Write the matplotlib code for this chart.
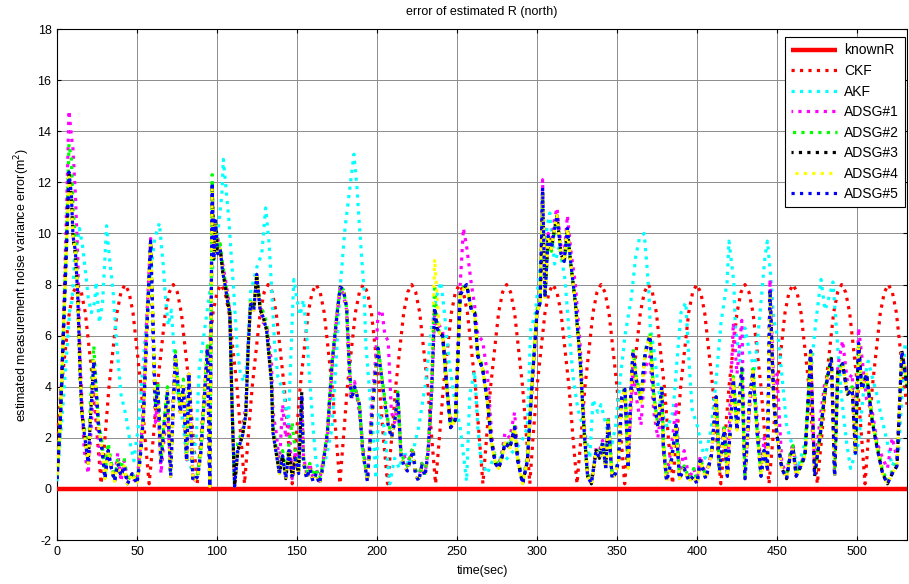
import matplotlib
matplotlib.use("Agg")
import matplotlib.pyplot as plt

plt.rcParams['font.family'] = ['Liberation Sans', 'DejaVu Sans']
plt.rcParams['axes.unicode_minus'] = False

# ---- data -------------------------------------------------------------
t_end = 531.25
known_t = [0, t_end]
known_v = [0, 0]

ckf_t = [0, 2.7, 7.7, 10.2, 12.7, 15.2, 17.7, 22.7, 25.2, 27.6,
         30, 32.5, 37.5, 40, 42.5, 45, 47.5, 52.5, 55, 57.6,
         60.2, 62.7, 67.7, 70.2, 72.7, 75.2, 77.7, 82.7, 85.2, 87.6,
         90, 92.5, 97.5, 100, 102.5, 105, 107.5, 112.5, 115, 117.2,
         119.5, 122, 127, 129.5, 132, 134.5, 137, 142, 144.5, 147,
         149.5, 152, 157, 159.5, 162, 164.5, 167, 172, 174.5, 176.8,
         179, 181.5, 186.5, 189, 191.5, 194, 196.5, 201.5, 204, 206.6,
         209.2, 211.7, 216.7, 219.2, 221.7, 224.2, 226.7, 231.7, 234.2, 236.6,
         239, 241.5, 246.5, 249, 251.5, 254, 256.5, 261.5, 264, 266.2,
         268.5, 271, 276, 278.5, 281, 283.5, 286, 291, 293.5, 295.5,
         297.5, 300, 305, 307.5, 310, 312.5, 315, 320, 322.5, 325,
         327.5, 330, 335, 337.5, 340, 342.5, 345, 350, 352.5, 354.8,
         357.1, 359.6, 364.6, 367.1, 369.6, 372.1, 374.6, 379.6, 382.1, 384.7,
         387.3, 389.8, 394.8, 397.3, 399.8, 402.3, 404.8, 409.8, 412.3, 414.9,
         417.5, 420, 425, 427.5, 430, 432.5, 435, 440, 442.5, 445,
         447.5, 450, 455, 457.5, 460, 462.5, 465, 470, 472.5, 475.2,
         477.9, 480.4, 485.4, 487.9, 490.4, 492.9, 495.4, 500.4, 502.9, 505,
         507.1, 509.6, 514.6, 517.1, 519.6, 522.1, 524.6, 529.6, 531.25]
ckf_v = [1.8, 4.0, 6.9, 7.7, 8.0, 7.7, 6.9, 4.0, 2.0, 0.2,
         2.0, 4.0, 6.9, 7.7, 8.0, 7.7, 6.9, 4.0, 2.0, 0.2,
         2.0, 4.0, 6.9, 7.7, 8.0, 7.7, 6.9, 4.0, 2.0, 0.2,
         2.0, 4.0, 6.9, 7.7, 8.0, 7.7, 6.9, 4.0, 2.0, 0.2,
         2.0, 4.0, 6.9, 7.7, 8.0, 7.7, 6.9, 4.0, 2.0, 0.2,
         2.0, 4.0, 6.9, 7.7, 8.0, 7.7, 6.9, 4.0, 2.0, 0.2,
         2.0, 4.0, 6.9, 7.7, 8.0, 7.7, 6.9, 4.0, 2.0, 0.2,
         2.0, 4.0, 6.9, 7.7, 8.0, 7.7, 6.9, 4.0, 2.0, 0.2,
         2.0, 4.0, 6.9, 7.7, 8.0, 7.7, 6.9, 4.0, 2.0, 0.2,
         2.0, 4.0, 6.9, 7.7, 8.0, 7.7, 6.9, 4.0, 2.0, 0.2,
         2.0, 4.0, 6.9, 7.7, 8.0, 7.7, 6.9, 4.0, 2.0, 0.2,
         2.0, 4.0, 6.9, 7.7, 8.0, 7.7, 6.9, 4.0, 2.0, 0.2,
         2.0, 4.0, 6.9, 7.7, 8.0, 7.7, 6.9, 4.0, 2.0, 0.2,
         2.0, 4.0, 6.9, 7.7, 8.0, 7.7, 6.9, 4.0, 2.0, 0.2,
         2.0, 4.0, 6.9, 7.7, 8.0, 7.7, 6.9, 4.0, 2.0, 0.2,
         2.0, 4.0, 6.9, 7.7, 8.0, 7.7, 6.9, 4.0, 2.0, 0.2,
         2.0, 4.0, 6.9, 7.7, 8.0, 7.7, 6.9, 4.0, 2.0, 0.2,
         2.0, 4.0, 6.9, 7.7, 8.0, 7.7, 6.9, 4.0, 3.3]

akf_t = [0, 4, 8, 9.5, 11, 14, 16, 18, 19.5, 21.5, 23.5, 24.5, 26.5, 28.5,
         31, 33, 35, 37, 40, 43, 46, 48, 51, 54, 57, 61, 64, 66.5, 67.5,
         69.5, 71.5, 73.5, 75.5, 79, 81, 84, 87, 89, 92, 95, 98, 101, 103,
         104, 106, 107.5, 108.5, 110.5, 112.5, 114.6, 116.7, 118.8, 121,
         125, 128, 130.4, 132.6, 134, 136, 138, 141.6, 144.6, 146.7, 148,
         150, 152, 154, 156, 158, 160.3, 162, 165, 168, 171.7, 174, 177,
         180, 182.5, 185.6, 187.5, 188.8, 190.5, 192, 193, 195, 198, 199.4,
         201, 204.6, 208, 211, 214, 217, 220, 223, 226, 230, 234, 237, 240,
         242, 245, 248, 252, 256, 258, 261, 263, 265, 269, 274, 280, 284,
         290, 294, 296, 299, 302, 305, 308, 311, 314, 317.5, 320, 322.5,
         325.6, 330, 333, 335, 338, 340, 343.6, 347, 349, 352, 355, 359,
         361.7, 364, 367, 368.5, 370, 370.8, 373, 375, 378, 381.5, 385,
         387.5, 390, 393, 395, 397, 400.5, 402.6, 405, 409, 412, 415, 418.8,
         420, 423, 424, 427, 430, 433, 436, 439, 442.5, 444, 446, 448, 451,
         454, 456, 460, 463, 467.5, 471, 474, 477.5, 480, 483, 485, 487,
         490, 493.5, 496, 501, 505, 507, 512, 515, 519, 522, 526, 530, 531.25]
akf_v = [0.3, 3.5, 7.0, 7.4, 9.0, 10.2, 9.5, 8.4, 7.5, 6.9, 7.3, 8.1, 6.5, 7.3,
         10.3, 8.9, 7.8, 5.9, 3.7, 2.9, 1.7, 1.1, 2.5, 5.0, 7.5, 9.8, 10.4, 8.7, 7.7,
         6.4, 7.0, 5.1, 3.8, 2.5, 1.2, 0.8, 2.0, 4.8, 6.1, 7.5, 9.0, 10.3, 11.5,
         12.9, 11.5, 10.5, 9.5, 7.7, 5.6, 4.5, 4.2, 4.9, 7.7,
         8.7, 9.2, 11.0, 9.6, 8.0, 5.7, 4.4, 3.8, 2.5, 6.1, 8.2,
         7.4, 6.8, 7.4, 6.1, 4.2, 2.2, 1.0, 0.6, 1.2, 2.3, 4.5, 7.9,
         10.2, 11.5, 13.1, 11.8, 10.5, 9.0, 7.7, 5.7, 4.1, 1.8, 0.4,
         3.0, 2.4, 0.2, 1.2, 0.8, 1.5, 0.9, 1.6, 2.4, 4.0, 6.2, 7.5, 8.1,
         7.0, 5.0, 3.7, 2.4, 0.3, 3.7, 4.6, 2.4, 1.1, 0.6, 1.4, 1.1, 1.4,
         1.8, 2.4, 6.2, 6.9, 8.8, 9.8, 10.8, 8.8, 9.5, 8.2, 6.2, 4.4,
         3.1, 2.2, 1.2, 3.5, 3.0, 3.3, 2.4, 1.8, 2.4, 4.3, 6.0, 7.5,
         9.1, 9.8, 10.0, 8.9, 7.6, 6.3, 5.5, 4.4, 3.0, 2.4, 3.0,
         5.0, 6.9, 7.3, 5.0, 3.1, 2.4, 1.7, 1.2, 2.4, 4.3, 6.5, 8.1,
         9.7, 8.1, 6.3, 5.0, 6.3, 5.3, 4.7, 6.6, 9.1, 9.7, 8.4, 6.6, 5.8,
         3.8, 2.5, 1.6, 0.8, 1.8, 4.4, 6.4, 8.2, 7.0, 7.6, 8.1, 6.4,
         3.8, 1.8, 0.8, 1.8, 4.4, 5.0, 3.8, 2.9, 1.8, 0.9, 1.4, 5.7, 5.5]

# shared time base of the five ADSG runs
adsg_t = [0, 2, 4, 6, 7.5, 9, 10, 11.5, 13, 14.5,
          15.5, 17, 19.5, 21, 23, 24.5, 26, 28, 30, 32,
          34, 36, 38, 40, 42, 44, 47, 50, 52, 54,
          56, 58.5, 60, 61.5, 63, 65, 67, 69, 71, 72.5,
          74, 76, 77, 79, 81, 82.5, 85, 88, 90, 92,
          94, 95.5, 97, 98, 99, 100.5, 102, 103.5, 105, 107,
          108, 109.5, 111, 113, 116, 118, 119.5, 121, 123, 124.8,
          127, 129, 131, 134, 135, 137, 139, 141, 143, 145,
          147, 149, 151, 153, 154, 156, 158, 160, 162, 164,
          166, 169, 172, 175, 177, 179, 181, 182.5, 184, 186,
          189, 191, 194, 197, 199, 200.6, 203, 205, 207, 209,
          211, 213, 215, 217, 219, 221, 222.5, 224, 226, 228,
          230, 232, 234, 236, 237.5, 239, 241, 244, 246, 249,
          250.5, 252, 254, 256, 259, 261, 263, 266, 269, 271.6,
          274, 276, 278, 280, 283, 286, 288, 291, 294, 297,
          300, 302, 303.5, 305, 307, 309, 311, 312.5, 315, 317,
          319, 321, 324, 327, 329.5, 331.6, 334, 337, 339, 341,
          343, 344.5, 347, 349, 351, 353, 355, 357, 358.5, 360,
          362, 365, 367, 368, 370.6, 373, 375.5, 378, 379, 381,
          384, 387, 389, 392, 395, 398, 400, 402, 405.5, 409,
          412, 414, 417, 419, 422.7, 425, 428, 430, 433, 435,
          437.5, 440, 442, 444, 445.6, 448, 450, 453, 456, 458,
          460, 462, 465, 467.5, 469.5, 471, 473.5, 475, 477, 480,
          482, 484, 486, 488, 491, 494, 497, 499, 501, 503,
          506, 509.6, 512.6, 516, 519, 522, 525, 528, 530, 531.25]

adsg1 = [0.4, 2.5, 6.5, 11.0, 14.8, 13.8, 13.3, 11.5, 9.0, 5.0,
         3.5, 1.5, 0.6, 2.0, 4.2, 3.0, 1.8, 0.8, 0.6, 1.2,
         1.0, 0.5, 1.4, 0.3, 1.1, 0.4, 0.4, 0.3, 1.5, 3.0,
         6.5, 9.8, 6.0, 2.6, 3.5, 0.6, 2.0, 3.2, 0.7, 3.5,
         5.2, 3.8, 3.0, 4.0, 1.1, 4.5, 0.3, 0.5, 1.5, 3.5,
         5.5, 0.1, 11.5, 9.6, 10.3, 9.8, 9.3, 8.8, 8.3, 7.5,
         6.9, 3.0, 0.1, 1.5, 2.4, 3.2, 5.8, 7.3, 7.0, 8.2,
         7.0, 6.5, 6.4, 5.0, 3.0, 2.2, 1.0, 3.3, 2.0, 2.6,
         0.4, 1.5, 1.2, 3.5, 1.3, 0.6, 1.0, 0.4, 0.8, 0.3,
         1.0, 2.0, 4.8, 6.8, 7.9, 7.6, 7.0, 5.0, 3.5, 4.2,
         3.0, 1.8, 0.4, 3.5, 5.0, 6.8, 7.0, 6.0, 5.8, 3.0,
         2.6, 3.4, 1.5, 1.3, 0.9, 1.4, 1.6, 0.6, 0.4, 1.0,
         0.6, 1.5, 3.5, 6.8, 6.3, 6.4, 6.2, 3.8, 2.6, 3.0,
         5.5, 8.0, 10.2, 9.5, 8.0, 7.2, 6.0, 5.8, 4.5, 2.2,
         1.0, 0.9, 1.4, 2.2, 2.0, 3.0, 1.3, 0.3, 1.2, 4.0,
         6.8, 7.4, 12.1, 7.6, 10.0, 9.6, 10.6, 11.0, 9.5, 9.2,
         10.7, 9.4, 8.0, 5.6, 2.5, 0.6, 0.3, 1.6, 1.5, 1.9,
         0.9, 2.8, 0.5, 0.7, 1.0, 3.4, 3.5, 1.0, 3.0, 4.9,
         3.6, 2.5, 4.3, 4.8, 5.2, 3.0, 2.0, 3.2, 1.4, 0.5,
         1.6, 3.3, 0.6, 1.5, 0.4, 0.8, 0.3, 1.3, 0.5, 1.4,
         3.3, 0.9, 2.5, 0.5, 6.5, 4.5, 6.6, 0.5, 3.3, 4.4,
         2.8, 0.8, 2.0, 1.0, 8.2, 4.0, 4.5, 1.0, 0.6, 1.3,
         1.8, 0.6, 1.0, 1.4, 3.4, 5.3, 0.8, 1.6, 2.8, 4.2,
         4.3, 5.0, 0.9, 4.8, 5.8, 4.2, 4.5, 2.2, 6.3, 5.2,
         3.5, 3.0, 1.8, 1.2, 0.8, 2.0, 1.2, 5.3, 4.8, 4.2]

adsg2 = [0.4, 2.5, 6.2, 10.0, 13.5, 12.9, 11.0, 9.8, 7.8, 4.3,
         3.0, 2.4, 1.2, 3.5, 5.6, 4.0, 2.6, 1.9, 0.6, 1.8,
         1.0, 0.4, 1.2, 0.8, 1.2, 0.3, 0.6, 0.3, 1.3, 2.9,
         6.0, 9.6, 6.3, 3.3, 4.2, 1.2, 2.7, 4.0, 0.6, 3.0,
         5.4, 3.8, 3.2, 4.3, 1.2, 4.6, 0.4, 0.6, 1.6, 3.6,
         5.6, 0.2, 12.3, 9.2, 10.6, 9.4, 9.6, 8.8, 8.2, 7.4,
         7.0, 3.2, 0.2, 1.8, 2.3, 3.0, 5.6, 7.4, 7.1, 8.3,
         7.2, 6.9, 6.5, 4.4, 2.5, 1.6, 0.8, 1.5, 0.6, 1.8,
         2.6, 1.4, 0.8, 3.6, 1.3, 0.6, 1.0, 0.5, 0.8, 0.4,
         0.9, 2.3, 5.0, 6.9, 7.9, 7.8, 7.1, 5.1, 3.7, 4.0,
         3.3, 1.6, 0.4, 3.0, 4.6, 5.6, 4.4, 3.5, 2.6, 2.1,
         2.7, 3.8, 1.4, 1.1, 0.9, 1.4, 1.6, 0.8, 0.4, 1.0,
         0.6, 1.6, 3.6, 8.0, 6.6, 6.1, 6.0, 3.8, 2.5, 2.8,
         5.0, 7.6, 7.9, 8.0, 7.1, 7.0, 5.3, 4.8, 3.5, 1.9,
         1.1, 0.9, 1.3, 1.9, 1.7, 2.5, 1.2, 0.3, 1.2, 4.3,
         7.0, 7.4, 11.6, 7.6, 9.8, 9.3, 10.1, 10.6, 9.1, 8.8,
         10.0, 8.8, 7.2, 5.1, 2.3, 0.6, 0.3, 1.6, 1.3, 1.9,
         0.9, 2.7, 0.5, 0.7, 1.2, 3.7, 4.0, 0.9, 3.6, 5.5,
         4.4, 3.5, 5.1, 5.5, 6.1, 3.7, 2.5, 4.1, 1.8, 0.4,
         1.2, 2.6, 0.5, 0.9, 0.4, 0.8, 0.3, 1.2, 0.5, 1.4,
         3.7, 0.8, 2.4, 0.6, 4.4, 2.4, 4.8, 0.5, 3.7, 4.7,
         2.4, 0.6, 1.6, 0.9, 7.6, 3.5, 2.2, 0.9, 0.5, 1.3,
         1.7, 0.6, 1.0, 1.4, 3.6, 5.5, 0.6, 1.3, 2.2, 3.9,
         4.6, 5.2, 0.6, 4.5, 5.0, 3.8, 4.0, 1.5, 5.6, 4.0,
         4.4, 2.7, 1.7, 0.7, 0.3, 0.7, 1.0, 5.3, 4.5, 4.0]

adsg3 = [0.4, 2.6, 6.1, 9.6, 12.3, 11.4, 9.8, 9.2, 7.4, 4.4,
         3.0, 2.2, 1.0, 2.9, 5.1, 3.8, 2.4, 1.6, 0.4, 1.5,
         0.8, 0.3, 1.0, 0.5, 0.9, 0.2, 0.6, 0.2, 1.2, 2.8,
         6.0, 9.7, 6.5, 3.2, 4.0, 1.0, 2.5, 3.8, 0.5, 3.0,
         5.2, 3.8, 3.0, 4.0, 1.1, 4.5, 0.3, 0.5, 1.5, 3.5,
         5.5, 0.1, 11.9, 9.0, 10.5, 9.2, 9.4, 8.5, 8.0, 7.2,
         6.9, 3.0, 0.1, 1.5, 2.1, 2.9, 5.5, 7.3, 7.0, 8.4,
         7.0, 6.7, 6.2, 4.2, 2.2, 1.4, 0.6, 1.3, 0.4, 1.5,
         0.5, 1.2, 0.6, 3.8, 1.1, 0.4, 0.8, 0.3, 0.6, 0.2,
         0.8, 2.2, 5.0, 6.8, 7.9, 7.8, 7.1, 5.0, 3.5, 4.0,
         3.3, 1.5, 0.3, 3.0, 4.5, 5.5, 4.3, 3.3, 2.5, 2.0,
         2.6, 3.7, 1.3, 0.9, 0.7, 1.2, 1.5, 0.6, 0.3, 0.9,
         0.5, 1.5, 3.7, 7.1, 6.3, 6.1, 6.0, 3.7, 2.4, 2.7,
         5.0, 7.6, 7.8, 8.0, 7.0, 6.9, 5.2, 4.7, 3.4, 1.8,
         1.0, 0.8, 1.2, 1.8, 1.6, 2.4, 1.1, 0.2, 1.1, 4.2,
         6.9, 7.3, 11.7, 7.5, 9.9, 9.4, 10.2, 10.7, 9.2, 8.9,
         10.2, 8.9, 7.3, 5.0, 2.2, 0.5, 0.2, 1.5, 1.2, 1.8,
         0.8, 2.7, 0.4, 0.6, 1.1, 3.6, 3.9, 0.8, 3.5, 5.4,
         4.3, 3.4, 5.0, 5.4, 6.0, 3.6, 2.4, 4.0, 1.7, 0.3,
         1.1, 2.5, 0.4, 0.8, 0.3, 0.5, 0.2, 1.1, 0.4, 1.3,
         3.6, 0.7, 2.3, 0.5, 4.3, 2.3, 4.7, 0.4, 3.6, 4.6,
         2.3, 0.5, 1.5, 0.8, 7.8, 3.4, 2.1, 0.8, 0.4, 1.2,
         1.6, 0.5, 0.9, 1.3, 3.5, 5.4, 0.5, 1.2, 2.1, 3.8,
         4.5, 5.1, 0.5, 4.6, 4.9, 3.7, 3.9, 1.4, 5.7, 3.9,
         4.5, 2.6, 1.6, 0.6, 0.2, 0.6, 0.9, 5.4, 4.6, 4.0]

adsg4 = [0.4, 2.5, 6.0, 9.5, 12.2, 11.4, 9.9, 9.3, 7.5, 4.5,
         3.0, 2.2, 1.0, 2.8, 5.0, 3.8, 2.4, 1.6, 0.4, 1.5,
         0.8, 0.3, 1.0, 0.5, 0.9, 0.2, 0.6, 0.2, 1.2, 2.8,
         6.0, 9.7, 6.5, 3.2, 4.0, 1.0, 2.5, 3.8, 0.5, 3.0,
         5.2, 3.8, 3.0, 4.0, 1.1, 4.5, 0.3, 0.5, 1.5, 3.5,
         5.5, 0.1, 11.8, 9.0, 10.5, 9.2, 9.4, 8.5, 8.0, 7.2,
         6.9, 3.0, 0.1, 1.5, 2.1, 2.9, 5.5, 7.3, 7.0, 8.4,
         7.0, 6.7, 6.2, 4.2, 2.2, 1.4, 0.6, 1.3, 0.4, 1.5,
         0.5, 1.2, 0.6, 3.7, 1.1, 0.4, 0.8, 0.3, 0.6, 0.2,
         0.8, 2.2, 5.0, 6.8, 7.9, 7.8, 7.1, 5.0, 3.5, 4.0,
         3.3, 1.5, 0.3, 3.0, 4.5, 5.5, 4.3, 3.3, 2.5, 2.0,
         2.6, 3.7, 1.3, 0.9, 0.7, 1.2, 1.5, 0.6, 0.3, 0.9,
         0.5, 1.5, 3.7, 9.0, 7.6, 6.1, 6.0, 3.7, 2.4, 2.7,
         5.0, 7.6, 7.8, 8.0, 7.0, 6.9, 5.2, 4.7, 3.4, 1.8,
         1.0, 0.8, 1.2, 1.8, 1.6, 2.4, 1.1, 0.2, 1.1, 4.2,
         6.9, 7.3, 11.6, 7.5, 9.9, 9.4, 10.2, 10.7, 9.2, 8.9,
         10.2, 8.9, 7.3, 5.0, 2.2, 0.5, 0.2, 1.5, 1.2, 1.8,
         0.8, 2.6, 0.4, 0.6, 1.1, 3.6, 3.9, 0.8, 3.5, 5.4,
         4.3, 3.4, 5.0, 5.4, 6.0, 3.6, 2.4, 4.0, 1.7, 0.3,
         1.1, 2.5, 0.4, 0.8, 0.3, 0.5, 0.2, 1.1, 0.4, 1.3,
         3.6, 0.7, 2.3, 0.5, 4.3, 2.3, 4.7, 0.4, 3.6, 4.6,
         2.3, 0.5, 1.5, 0.8, 7.7, 3.4, 2.1, 0.8, 0.4, 1.2,
         1.6, 0.5, 0.9, 1.3, 3.5, 5.4, 0.5, 1.2, 2.1, 3.8,
         4.5, 5.1, 0.5, 4.4, 4.9, 3.7, 3.9, 1.4, 5.7, 3.9,
         4.5, 2.6, 1.6, 0.6, 0.2, 0.6, 0.9, 5.4, 4.6, 4.0]

adsg5 = [0.4, 2.5, 6.0, 9.5, 12.4, 11.5, 9.9, 9.3, 7.5, 4.5,
         3.0, 2.2, 1.0, 2.8, 5.0, 3.8, 2.4, 1.6, 0.4, 1.5,
         0.8, 0.3, 1.0, 0.5, 0.9, 0.2, 0.6, 0.2, 1.2, 2.8,
         6.0, 9.7, 6.5, 3.2, 4.0, 1.0, 2.5, 3.8, 0.5, 3.0,
         5.2, 3.8, 3.0, 4.0, 1.1, 4.5, 0.3, 0.5, 1.5, 3.5,
         5.5, 0.1, 12.0, 9.0, 10.5, 9.2, 9.4, 8.5, 8.0, 7.2,
         6.9, 3.0, 0.1, 1.5, 2.1, 2.9, 5.5, 7.3, 7.0, 8.4,
         7.0, 6.7, 6.2, 4.2, 2.2, 1.4, 0.6, 1.3, 0.4, 1.5,
         0.5, 1.2, 0.6, 3.7, 1.1, 0.4, 0.8, 0.3, 0.6, 0.2,
         0.8, 2.2, 5.0, 6.8, 7.9, 7.8, 7.1, 5.0, 3.5, 4.0,
         3.3, 1.5, 0.3, 3.0, 4.5, 5.5, 4.3, 3.3, 2.5, 2.0,
         2.6, 3.7, 1.3, 0.9, 0.7, 1.2, 1.5, 0.6, 0.3, 0.9,
         0.5, 1.5, 3.7, 7.1, 6.3, 6.1, 6.0, 3.7, 2.4, 2.7,
         5.0, 7.6, 7.8, 8.0, 7.0, 6.9, 5.2, 4.7, 3.4, 1.8,
         1.0, 0.8, 1.2, 1.8, 1.6, 2.4, 1.1, 0.2, 1.1, 4.2,
         6.9, 7.3, 11.8, 7.5, 9.9, 9.4, 10.2, 10.7, 9.2, 8.9,
         10.2, 8.9, 7.3, 5.0, 2.2, 0.5, 0.2, 1.5, 1.2, 1.8,
         0.8, 2.6, 0.4, 0.6, 1.1, 3.6, 3.9, 0.8, 3.5, 5.4,
         4.3, 3.4, 5.0, 5.4, 6.0, 3.6, 2.4, 4.0, 1.7, 0.3,
         1.1, 2.5, 0.4, 0.8, 0.3, 0.5, 0.2, 1.1, 0.4, 1.3,
         3.6, 0.7, 2.3, 0.5, 4.3, 2.3, 4.7, 0.4, 3.6, 4.6,
         2.3, 0.5, 1.5, 0.8, 7.8, 3.4, 2.1, 0.8, 0.4, 1.2,
         1.6, 0.5, 0.9, 1.3, 3.5, 5.4, 0.5, 1.2, 2.1, 3.8,
         4.5, 5.1, 0.5, 4.4, 4.9, 3.7, 3.9, 1.4, 5.7, 3.9,
         4.5, 2.6, 1.6, 0.6, 0.2, 0.6, 0.9, 5.4, 4.6, 4.0]

x_ticks = [0, 50, 100, 150, 200, 250, 300, 350, 400, 450, 500]
y_ticks = [-2, 0, 2, 4, 6, 8, 10, 12, 14, 16, 18]

# ---- figure -----------------------------------------------------------
fig = plt.figure(figsize=(9.09, 5.84), dpi=100)
ax = fig.add_axes([0.0627, 0.0753, 0.9351, 0.875])

lw = 2.3
dots = (1, 1.65)
ax.plot(known_t, known_v, color='#FF0000', lw=3.2, solid_capstyle='butt',
        label='knownR', zorder=3)
ax.plot(ckf_t, ckf_v, color='#FF0000', lw=lw, ls=(0, dots),
        label='CKF', zorder=3)
ax.plot(akf_t, akf_v, color='#00FFFF', lw=lw, ls=(0, dots),
        label='AKF', zorder=3)

# dash phase per run, so the overlapping runs peek between each other's dots
adsg_runs = [
    (adsg1, '#FF00FF', 'ADSG#1', 0.5),
    (adsg2, '#00FF00', 'ADSG#2', 2.2),
    (adsg3, '#000000', 'ADSG#3', 0.35),
    (adsg4, '#FFFF00', 'ADSG#4', 1.45),
    (adsg5, '#0000FF', 'ADSG#5', 0.0),
]
for vals, col, name, phase in adsg_runs:
    ax.plot(adsg_t, vals, color=col, lw=lw, ls=(phase, dots),
            label=name, zorder=3)

ax.set_xlim(0, t_end)
ax.set_ylim(-2, 18)
ax.set_xticks(x_ticks)
ax.set_yticks(y_ticks)
ax.grid(True, color='#8c8c8c', lw=0.7, zorder=0)
ax.set_axisbelow(True)
ax.tick_params(direction='in', top=True, right=True, length=3,
               labelsize=9, pad=4)
for s in ax.spines.values():
    s.set_linewidth(0.8)

ax.set_title('error of estimated R (north)', fontsize=9, pad=10)
ax.set_xlabel('time(sec)', fontsize=9, labelpad=5)
ax.set_ylabel('estimated measurement noise variance error(m$^2$)',
              fontsize=9, labelpad=4)

leg = ax.legend(loc='upper right', bbox_to_anchor=(0.998, 0.984),
                borderaxespad=0, fontsize=10, handlelength=3.3,
                labelspacing=0.47, handletextpad=0.5, borderpad=0.45,
                fancybox=False, framealpha=1, edgecolor='black')
leg.get_frame().set_linewidth(0.8)

fig.savefig('out.png', dpi=100)
